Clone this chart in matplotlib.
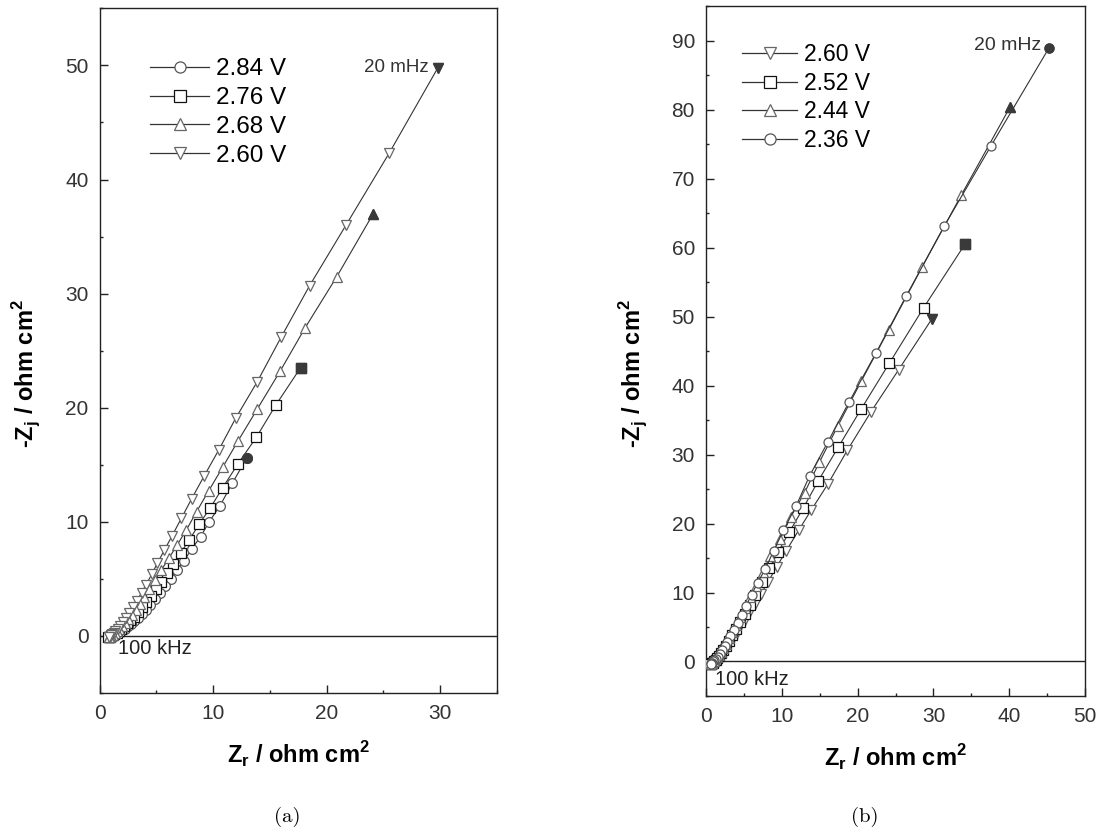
import matplotlib
matplotlib.use("Agg")
import matplotlib.pyplot as plt
from matplotlib.lines import Line2D
from matplotlib.ticker import MultipleLocator

plt.rcParams['font.family'] = ['Liberation Sans', 'DejaVu Sans']

# ---- data: panel (a) ----
a_labels = ["2.84 V", "2.76 V", "2.68 V", "2.60 V"]
a_x_284 = [12.97, 11.7, 10.6, 9.65, 8.9, 8.1, 7.45, 6.8, 6.27, 5.75, 5.3, 4.85, 4.45, 4.05, 3.7,
           3.35, 3.05, 2.75, 2.5, 2.25, 2.0, 1.8, 1.6, 1.4, 1.25, 1.1, 0.98, 0.88, 0.8, 0.75]
a_y_284 = [15.6, 13.4, 11.4, 10.0, 8.7, 7.6, 6.6, 5.8, 5.0, 4.35, 3.75, 3.2, 2.75, 2.3, 1.95,
           1.6, 1.3, 1.05, 0.85, 0.65, 0.5, 0.35, 0.22, 0.12, 0.05, 0.0, -0.05, -0.1, -0.1, -0.1]
a_x_276 = [17.7, 15.5, 13.8, 12.2, 10.85, 9.74, 8.77, 7.9, 7.15, 6.5, 5.95, 5.4, 4.95, 4.5, 4.1,
           3.7, 3.35, 3.0, 2.7, 2.4, 2.15, 1.9, 1.7, 1.5, 1.3, 1.15, 1.0, 0.9, 0.8, 0.75]
a_y_276 = [23.5, 20.2, 17.4, 15.1, 13.0, 11.2, 9.8, 8.4, 7.3, 6.3, 5.5, 4.7, 4.1, 3.5, 2.95,
           2.5, 2.1, 1.7, 1.4, 1.1, 0.85, 0.65, 0.45, 0.3, 0.18, 0.08, 0.0, -0.05, -0.1, -0.1]
a_x_268 = [24.1, 20.9, 18.1, 15.9, 13.9, 12.2, 10.85, 9.6, 8.55, 7.65, 6.85, 6.1, 5.45, 4.9, 4.4,
           3.95, 3.55, 3.2, 2.85, 2.55, 2.25, 2.0, 1.75, 1.55, 1.35, 1.2, 1.05, 0.95, 0.85, 0.8]
a_y_268 = [37.0, 31.5, 27.0, 23.2, 19.9, 17.1, 14.8, 12.7, 10.9, 9.3, 8.0, 6.8, 5.8, 4.9, 4.1,
           3.4, 2.8, 2.3, 1.85, 1.45, 1.1, 0.85, 0.6, 0.4, 0.25, 0.12, 0.02, -0.05, -0.1, -0.1]
a_x_260 = [29.8, 25.5, 21.7, 18.5, 16.0, 13.9, 12.0, 10.5, 9.2, 8.1, 7.2, 6.4, 5.7, 5.1, 4.6,
           4.1, 3.7, 3.3, 2.95, 2.6, 2.3, 2.05, 1.8, 1.6, 1.4, 1.25, 1.1, 1.0, 0.9, 0.85]
a_y_260 = [49.8, 42.3, 36.0, 30.7, 26.2, 22.3, 19.1, 16.3, 14.0, 12.0, 10.3, 8.8, 7.5, 6.4, 5.4,
           4.5, 3.8, 3.1, 2.5, 2.0, 1.55, 1.2, 0.9, 0.65, 0.45, 0.3, 0.15, 0.05, -0.05, -0.1]

# ---- data: panel (b) ----
b_labels = ["2.60 V", "2.52 V", "2.44 V", "2.36 V"]
b_x_260 = [29.8, 25.4, 21.75, 18.65, 16.05, 13.9, 12.2, 10.55, 9.3, 8.2, 7.25, 6.4, 5.65, 5.0, 4.4,
           3.9, 3.4, 2.95, 2.55, 2.2, 1.9, 1.6, 1.35, 1.15, 0.95, 0.8, 0.7, 0.6, 0.55, 0.5]
b_y_260 = [49.7, 42.3, 36.2, 30.65, 25.7, 22.0, 19.0, 16.0, 13.7, 11.6, 9.8, 8.3, 7.0, 5.8, 4.8,
           3.9, 3.1, 2.4, 1.8, 1.3, 0.85, 0.5, 0.2, 0.0, -0.15, -0.25, -0.3, -0.35, -0.35, -0.35]
b_x_252 = [34.2, 28.7, 24.2, 20.45, 17.45, 14.8, 12.8, 11.0, 9.5, 8.35, 7.35, 6.5, 5.75, 5.1, 4.5,
           3.95, 3.45, 3.0, 2.6, 2.25, 1.95, 1.7, 1.45, 1.25, 1.05, 0.9, 0.8, 0.7, 0.6, 0.55]
b_y_252 = [60.6, 51.3, 43.3, 36.6, 31.1, 26.2, 22.2, 18.8, 15.9, 13.5, 11.5, 9.7, 8.2, 6.9, 5.7,
           4.7, 3.8, 3.0, 2.3, 1.7, 1.2, 0.8, 0.45, 0.2, 0.0, -0.15, -0.25, -0.3, -0.35, -0.35]
b_x_244 = [40.1, 33.7, 28.5, 24.1, 20.5, 17.4, 14.95, 13.0, 11.2, 9.8, 8.5, 7.45, 6.55, 5.8, 5.1,
           4.5, 3.95, 3.45, 3.0, 2.6, 2.25, 1.95, 1.65, 1.4, 1.2, 1.0, 0.85, 0.75, 0.65, 0.6]
b_y_244 = [80.4, 67.7, 57.2, 48.1, 40.7, 34.2, 28.9, 24.5, 21.0, 17.8, 15.3, 13.0, 11.0, 9.3, 7.8,
           6.5, 5.3, 4.3, 3.4, 2.6, 1.95, 1.4, 0.95, 0.6, 0.3, 0.1, -0.05, -0.15, -0.25, -0.3]
b_x_236 = [45.25, 37.6, 31.4, 26.4, 22.4, 18.9, 16.05, 13.65, 11.9, 10.2, 8.9, 7.8, 6.8, 6.0, 5.3,
           4.7, 4.15, 3.65, 3.2, 2.8, 2.45, 2.1, 1.8, 1.55, 1.3, 1.1, 0.95, 0.8, 0.7, 0.6]
b_y_236 = [89.0, 74.8, 63.1, 53.0, 44.7, 37.7, 31.8, 26.9, 22.6, 19.0, 16.0, 13.4, 11.4, 9.7, 8.1,
           6.8, 5.6, 4.6, 3.7, 2.9, 2.2, 1.6, 1.1, 0.7, 0.4, 0.15, 0.0, -0.15, -0.25, -0.3]

line_col = '#333333'
fill_col = '#3a3a3a'


def draw_series(ax, xs, ys, marker, ec, ms):
    # line + open markers, last (lowest frequency) point filled
    ax.plot(xs, ys, color=line_col, lw=0.8, marker=marker, ms=ms, mfc='white',
            mec=ec, mew=0.9, zorder=3)
    ax.plot(xs[0], ys[0], marker=marker, ms=ms, color=fill_col, mec=fill_col, zorder=4, ls='none')


def style_axes(ax, xmax, ymin, ymax, ylab_x):
    ax.set_xlim(0, xmax)
    ax.set_ylim(ymin, ymax)
    ax.xaxis.set_major_locator(MultipleLocator(10))
    ax.xaxis.set_minor_locator(MultipleLocator(5))
    ax.yaxis.set_major_locator(MultipleLocator(10))
    ax.yaxis.set_minor_locator(MultipleLocator(5))
    ax.tick_params(which='both', direction='in', top=False, right=False,
                   labelsize=15, labelcolor='#333333', color='#222222')
    ax.tick_params(which='major', length=5.5, width=1.0, pad=8)
    ax.tick_params(which='minor', length=2.5, width=1.0)
    for s in ax.spines.values():
        s.set_linewidth(1.0)
        s.set_color('#222222')
    ax.axhline(0, color='#222222', lw=1.0, zorder=2)
    ax.set_xlabel(r'Z$_\mathregular{r}$ / ohm cm$^\mathregular{2}$', fontsize=17,
                  fontweight='bold', labelpad=12)
    ax.set_ylabel(r'-Z$_\mathregular{j}$ / ohm cm$^\mathregular{2}$', fontsize=17,
                  fontweight='bold')
    ax.yaxis.set_label_coords(ylab_x, 0.467)


fig = plt.figure(figsize=(11.02, 8.33), dpi=100)

# panel (a)
ax1 = fig.add_axes([0.0903, 0.168, 0.3607, 0.822])
style_axes(ax1, 35, -5, 55, -0.142)
a_series = [(a_x_284, a_y_284, 'o', '#555555'), (a_x_276, a_y_276, 's', '#111111'),
            (a_x_268, a_y_268, '^', '#666666'), (a_x_260, a_y_260, 'v', '#666666')]
handles = []
for (xs, ys, m, ec), lab in zip(a_series, a_labels):
    draw_series(ax1, xs, ys, m, ec, 7)
    handles.append(Line2D([], [], color=line_col, lw=0.9, marker=m, ms=8, mfc='white', mec=ec, mew=0.9, label=lab))
ax1.legend(handles=handles, loc='upper left', bbox_to_anchor=(0.128, 0.927), frameon=False,
           fontsize=17.5, handlelength=2.4, handletextpad=0.3, labelspacing=0.28, borderpad=0,
           borderaxespad=0)
ax1.text(29.0, 49.8, '20 mHz', fontsize=13.5, color='#333333', ha='right', va='center')
ax1.text(1.6, -1.1, '100 kHz', fontsize=14.5, color='#222222', ha='left', va='center')

# panel (b)
ax2 = fig.add_axes([0.6407, 0.1645, 0.3439, 0.8277])
style_axes(ax2, 50, -5, 95, -0.148)
b_series = [(b_x_260, b_y_260, 'v', '#666666'), (b_x_252, b_y_252, 's', '#111111'),
            (b_x_244, b_y_244, '^', '#666666'), (b_x_236, b_y_236, 'o', '#555555')]
handles = []
for (xs, ys, m, ec), lab in zip(b_series, b_labels):
    draw_series(ax2, xs, ys, m, ec, 6.5)
    handles.append(Line2D([], [], color=line_col, lw=0.9, marker=m, ms=8, mfc='white', mec=ec, mew=0.9, label=lab))
ax2.legend(handles=handles, loc='upper left', bbox_to_anchor=(0.095, 0.947), frameon=False,
           fontsize=16.5, handlelength=2.4, handletextpad=0.3, labelspacing=0.25, borderpad=0,
           borderaxespad=0)
ax2.text(44.2, 89.3, '20 mHz', fontsize=14, color='#333333', ha='right', va='center')
ax2.text(1.2, -2.6, '100 kHz', fontsize=14.5, color='#222222', ha='left', va='center')

# captions
fig.text(287 / 1102, 1 - 817 / 833, '(a)', fontsize=15, family='cmr10', ha='center', va='center')
fig.text(865 / 1102, 1 - 817 / 833, '(b)', fontsize=15, family='cmr10', ha='center', va='center')

fig.savefig('out.png', dpi=100)
